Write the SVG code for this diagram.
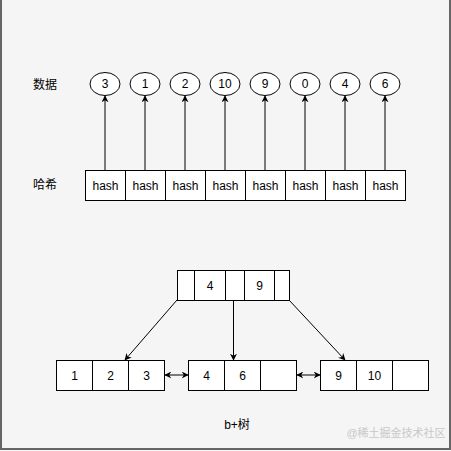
<svg xmlns="http://www.w3.org/2000/svg" width="451" height="451" viewBox="0 0 451 451">
<style>
.c{fill:#fff;stroke:#000;stroke-width:1}
.t{font-family:"Liberation Sans","Noto Sans CJK SC",sans-serif;font-size:12px;fill:#000;text-anchor:middle;dominant-baseline:central}
.e{stroke:#000;stroke-width:1;fill:none}
</style>
<defs>
<marker id="ah" viewBox="0 0 10 10" refX="9" refY="5" markerWidth="7" markerHeight="7" orient="auto-start-reverse" markerUnits="userSpaceOnUse">
<path d="M0,0 L10,5 L0,10 L3,5 Z" fill="#000"/>
</marker>
</defs>
<rect x="0" y="0" width="451" height="451" fill="#f5f5f5"/>
<rect x="1" y="-2" width="449" height="451" fill="none" stroke="#666" stroke-width="2"/>

<g id="labels">
<text class="t" x="45" y="85">数据</text>
<text class="t" x="45" y="185">哈希</text>
<text class="t" x="237" y="425">b+树</text>
<text class="t" x="396" y="433" style="font-size:11px;fill:#c8c8c8">@稀土掘金技术社区</text>
</g>

<g id="connectors">
<line class="e" x1="105" y1="170" x2="105" y2="96" marker-end="url(#ah)"/>
<line class="e" x1="145" y1="170" x2="145" y2="96" marker-end="url(#ah)"/>
<line class="e" x1="185" y1="170" x2="185" y2="96" marker-end="url(#ah)"/>
<line class="e" x1="225" y1="170" x2="225" y2="96" marker-end="url(#ah)"/>
<line class="e" x1="265" y1="170" x2="265" y2="96" marker-end="url(#ah)"/>
<line class="e" x1="305" y1="170" x2="305" y2="96" marker-end="url(#ah)"/>
<line class="e" x1="345" y1="170" x2="345" y2="96" marker-end="url(#ah)"/>
<line class="e" x1="385" y1="170" x2="385" y2="96" marker-end="url(#ah)"/>
<line class="e" x1="177" y1="300" x2="125" y2="360" marker-end="url(#ah)"/>
<line class="e" x1="233.5" y1="300" x2="233.5" y2="360" marker-end="url(#ah)"/>
<line class="e" x1="289" y1="300" x2="345" y2="360" marker-end="url(#ah)"/>
<line class="e" x1="165" y1="375" x2="188" y2="375" marker-start="url(#ah)" marker-end="url(#ah)"/>
<line class="e" x1="297" y1="375" x2="320" y2="375" marker-start="url(#ah)" marker-end="url(#ah)"/>
</g>

<g id="data">
<g id="d1"><ellipse class="c" cx="105" cy="84" rx="15" ry="11.5"/><text class="t" x="105" y="84">3</text></g>
<g id="d2"><ellipse class="c" cx="145" cy="84" rx="15" ry="11.5"/><text class="t" x="145" y="84">1</text></g>
<g id="d3"><ellipse class="c" cx="185" cy="84" rx="15" ry="11.5"/><text class="t" x="185" y="84">2</text></g>
<g id="d4"><ellipse class="c" cx="225" cy="84" rx="15" ry="11.5"/><text class="t" x="225" y="84">10</text></g>
<g id="d5"><ellipse class="c" cx="265" cy="84" rx="15" ry="11.5"/><text class="t" x="265" y="84">9</text></g>
<g id="d6"><ellipse class="c" cx="305" cy="84" rx="15" ry="11.5"/><text class="t" x="305" y="84">0</text></g>
<g id="d7"><ellipse class="c" cx="345" cy="84" rx="15" ry="11.5"/><text class="t" x="345" y="84">4</text></g>
<g id="d8"><ellipse class="c" cx="385" cy="84" rx="15" ry="11.5"/><text class="t" x="385" y="84">6</text></g>
</g>

<g id="hash">
<g id="h1"><rect class="c" x="85.5" y="170.5" width="40" height="30"/><text class="t" x="105.5" y="185.5">hash</text></g>
<g id="h2"><rect class="c" x="125.5" y="170.5" width="40" height="30"/><text class="t" x="145.5" y="185.5">hash</text></g>
<g id="h3"><rect class="c" x="165.5" y="170.5" width="40" height="30"/><text class="t" x="185.5" y="185.5">hash</text></g>
<g id="h4"><rect class="c" x="205.5" y="170.5" width="40" height="30"/><text class="t" x="225.5" y="185.5">hash</text></g>
<g id="h5"><rect class="c" x="245.5" y="170.5" width="40" height="30"/><text class="t" x="265.5" y="185.5">hash</text></g>
<g id="h6"><rect class="c" x="285.5" y="170.5" width="40" height="30"/><text class="t" x="305.5" y="185.5">hash</text></g>
<g id="h7"><rect class="c" x="325.5" y="170.5" width="40" height="30"/><text class="t" x="345.5" y="185.5">hash</text></g>
<g id="h8"><rect class="c" x="365.5" y="170.5" width="40" height="30"/><text class="t" x="385.5" y="185.5">hash</text></g>
</g>

<g id="root">
<rect class="c" x="177.5" y="270.5" width="17" height="30"/>
<rect class="c" x="194.5" y="270.5" width="31" height="30"/>
<rect class="c" x="225.5" y="270.5" width="19" height="30"/>
<rect class="c" x="244.5" y="270.5" width="30" height="30"/>
<rect class="c" x="274.5" y="270.5" width="15" height="30"/>
<text class="t" x="210" y="285.5">4</text>
<text class="t" x="259.5" y="285.5">9</text>
</g>

<g id="leaf1">
<rect class="c" x="56.5" y="360.5" width="36" height="30"/>
<rect class="c" x="92.5" y="360.5" width="36" height="30"/>
<rect class="c" x="128.5" y="360.5" width="36" height="30"/>
<text class="t" x="74.5" y="375.5">1</text>
<text class="t" x="110.5" y="375.5">2</text>
<text class="t" x="146.5" y="375.5">3</text>
</g>

<g id="leaf2">
<rect class="c" x="188.5" y="360.5" width="36" height="30"/>
<rect class="c" x="224.5" y="360.5" width="36" height="30"/>
<rect class="c" x="260.5" y="360.5" width="36" height="30"/>
<text class="t" x="206.5" y="375.5">4</text>
<text class="t" x="242.5" y="375.5">6</text>
</g>

<g id="leaf3">
<rect class="c" x="320.5" y="360.5" width="36" height="30"/>
<rect class="c" x="356.5" y="360.5" width="36" height="30"/>
<rect class="c" x="392.5" y="360.5" width="36" height="30"/>
<text class="t" x="338.5" y="375.5">9</text>
<text class="t" x="374.5" y="375.5">10</text>
</g>
</svg>
